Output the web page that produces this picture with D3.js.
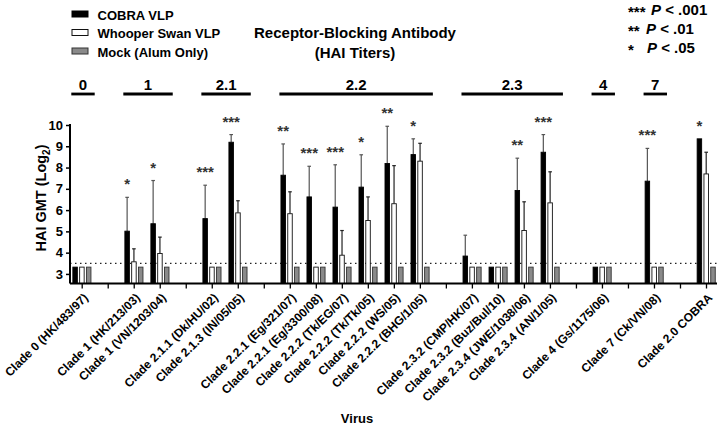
<!DOCTYPE html>
<html><head><meta charset="utf-8">
<script src="https://cdn.jsdelivr.net/npm/d3@7"></script>
<style>
html,body{margin:0;padding:0;background:#fff;}
svg{display:block;font-family:"Liberation Sans",Arial,Helvetica,sans-serif;}
</style></head>
<body>
<svg id="chart" width="720" height="426"></svg>
<script>
// ---------- data ----------
const categories = [
  "Clade 0 (HK/483/97)", null,
  "Clade 1 (HK/213/03)", "Clade 1 (VN/1203/04)", null,
  "Clade 2.1.1 (Dk/HU/02)", "Clade 2.1.3 (IN/05/05)", null,
  "Clade 2.2.1 (Eg/321/07)", "Clade 2.2.1 (Eg/3300/08)", "Clade 2.2.2 (Tk/EG/07)",
  "Clade 2.2.2 (Tk/Tk/05)", "Clade 2.2.2 (WS/05)", "Clade 2.2.2 (BHG/1/05)", null,
  "Clade 2.3.2 (CMP/HK/07)", "Clade 2.3.2 (Buz/Bul/10)", "Clade 2.3.4 (JWE/1038/06)", "Clade 2.3.4 (AN/1/05)", null,
  "Clade 4 (Gs/1175/06)", null,
  "Clade 7 (Ck/VN/08)", null,
  "Clade 2.0 COBRA"
];
const seriesNames = ["COBRA VLP", "Whooper Swan VLP", "Mock (Alum Only)"];
const cobraVLP     = [3.32,null,5.01,5.36,null,5.60,9.19,null,7.64,6.62,6.14,7.08,8.19,8.61,null,3.84,3.32,6.92,8.72,null,3.32,null,7.36,null,9.35];
const cobraUpper   = [3.32,null,6.60,7.39,null,7.17,9.55,null,9.11,8.06,8.13,8.60,9.94,9.35,null,4.82,3.32,8.44,9.55,null,3.32,null,8.90,null,9.35];
const whooperVLP   = [3.32,null,3.57,3.96,null,3.32,5.87,null,5.83,3.32,3.88,5.51,6.30,8.30,null,3.32,3.32,5.04,6.34,null,3.32,null,3.32,null,7.70];
const whooperUpper = [3.32,null,4.18,4.73,null,3.32,6.44,null,6.86,3.32,5.04,6.62,8.09,9.14,null,3.32,3.32,6.39,7.80,null,3.32,null,3.32,null,8.72];
const mockAlum     = [3.32,null,3.32,3.32,null,3.32,3.32,null,3.32,3.32,3.32,3.32,3.32,3.32,null,3.32,3.32,3.32,3.32,null,3.32,null,3.32,null,3.32];
const significance = ["",null,"*","*",null,"***","***",null,"**","***","***","*","**","*",null,"","","**","***",null,"",null,"***",null,"*"];
const cladeGroups = [
  {name:"0",   first:0,  last:0},
  {name:"1",   first:2,  last:3},
  {name:"2.1", first:5,  last:6},
  {name:"2.2", first:8,  last:13},
  {name:"2.3", first:15, last:18},
  {name:"4",   first:20, last:20},
  {name:"7",   first:22, last:22}
];
const yTicks = [3,4,5,6,7,8,9,10];
const detectionLimit = 3.5;
const pLegend = [["***","< .001"],["**","< .01"],["*","< .05"]];

// ---------- layout ----------
const svg = d3.select("#chart");
const axisLeftX = 70, axisRightX = 717, axisBottomY = 283.5, axisTopY = 125;

const x = d3.scalePoint().domain(d3.range(categories.length)).range([81.7, 706]);
const inner = d3.scaleBand().domain(seriesNames).range([-9.25, 9.65]).paddingInner(0.22);
const y = d3.scaleLinear().domain([2.55, 10]).range([axisBottomY, axisTopY]);

const colors = {"COBRA VLP":"#000000","Whooper Swan VLP":"#ffffff","Mock (Alum Only)":"#8a8a8a"};
const strokes = {"COBRA VLP":"#000000","Whooper Swan VLP":"#111111","Mock (Alum Only)":"#333333"};

// detection limit dotted line (behind bars)
svg.append("line")
  .attr("x1", axisLeftX).attr("x2", axisRightX)
  .attr("y1", y(detectionLimit)).attr("y2", y(detectionLimit))
  .attr("stroke", "#222").attr("stroke-width", 1.3)
  .attr("stroke-dasharray", "1.5,3.5");

// bars
const seriesData = [
  {name:"COBRA VLP", vals:cobraVLP, up:cobraUpper},
  {name:"Whooper Swan VLP", vals:whooperVLP, up:whooperUpper},
  {name:"Mock (Alum Only)", vals:mockAlum, up:mockAlum}
];
const barsG = svg.append("g");
seriesData.forEach(s => {
  const pts = s.vals.map((v,i)=>({i, v, up:s.up[i]})).filter(d=>d.v!==null);
  const eg = barsG.append("g");
  pts.filter(d=>d.up > d.v + 0.01).forEach(d=>{
    const cx = x(d.i) + inner(s.name) + inner.bandwidth()/2;
    const col = s.name==="COBRA VLP" ? "#555" : "#222";
    eg.append("line").attr("x1",cx).attr("x2",cx)
      .attr("y1", y(d.v)).attr("y2", y(d.up))
      .attr("stroke", col).attr("stroke-width",1.2);
    eg.append("line").attr("x1",cx-1.8).attr("x2",cx+1.8)
      .attr("y1", y(d.up)).attr("y2", y(d.up))
      .attr("stroke", col).attr("stroke-width",1.2);
  });
  barsG.append("g").selectAll("rect").data(pts).join("rect")
    .attr("x", d => x(d.i) + inner(s.name) + 0.4)
    .attr("width", inner.bandwidth() - 0.8)
    .attr("y", d => y(d.v))
    .attr("height", d => axisBottomY - y(d.v))
    .attr("fill", colors[s.name])
    .attr("stroke", strokes[s.name]).attr("stroke-width", 0.9);
});

// significance stars
svg.append("g").selectAll("text")
  .data(significance.map((s,i)=>({s,i})).filter(d=>d.s))
  .join("text")
  .attr("x", d => x(d.i) + inner("COBRA VLP") + inner.bandwidth()/2)
  .attr("y", d => y(cobraUpper[d.i]) - 8)
  .attr("text-anchor","middle")
  .attr("font-size", 15).attr("font-weight","bold").attr("fill","#333")
  .text(d=>d.s);

// y axis
const yAxis = d3.axisLeft(y).tickValues(yTicks).tickSize(4).tickSizeOuter(0).tickPadding(3);
const yg = svg.append("g").attr("transform", `translate(${axisLeftX},0)`).call(yAxis);
yg.select(".domain").attr("d", `M0,${axisTopY-1}V${axisBottomY}`).attr("stroke","#000").attr("stroke-width",2);
yg.selectAll(".tick line").attr("stroke","#000").attr("stroke-width",1.5);
yg.selectAll(".tick text").attr("font-size",13).attr("font-weight","bold").attr("fill","#000")
  .attr("font-family","'Liberation Sans',Arial,sans-serif");

// x axis
const xAxis = d3.axisBottom(x).tickSize(5).tickSizeOuter(0).tickFormat("");
const xg = svg.append("g").attr("transform", `translate(0,${axisBottomY})`).call(xAxis);
xg.select(".domain").attr("d", `M${axisLeftX},0H${axisRightX}`).attr("stroke","#000").attr("stroke-width",2);
xg.selectAll(".tick line").attr("stroke","#000").attr("stroke-width",1.3);

// x labels rotated
svg.append("g").selectAll("text")
  .data(categories.map((c,i)=>({c,i})).filter(d=>d.c))
  .join("text")
  .attr("transform", d => `translate(${x(d.i)+1},${axisBottomY+9}) rotate(-45)`)
  .attr("dy","0.71em")
  .attr("text-anchor","end")
  .attr("font-size",12).attr("font-weight","bold").attr("fill","#000")
  .text(d=>d.c);

// clade group brackets
const step = x.step();
const cg = svg.append("g");
cladeGroups.forEach(g=>{
  const x1 = x(g.first) - 0.4*step, x2 = x(g.last) + 0.5*step;
  cg.append("line").attr("x1",x1).attr("x2",x2).attr("y1",94).attr("y2",94)
    .attr("stroke","#000").attr("stroke-width",2.8);
  cg.append("text").attr("x",(x1+x2)/2).attr("y",90).attr("text-anchor","middle")
    .attr("font-size",15).attr("font-weight","bold").text(g.name);
});

// axis titles
svg.append("text").attr("x",357).attr("y",423).attr("text-anchor","middle")
  .attr("font-size",13).attr("font-weight","bold").text("Virus");
const yt = svg.append("text").attr("transform","translate(46,198) rotate(-90)")
  .attr("text-anchor","middle").attr("font-size",14.5).attr("font-weight","bold");
yt.append("tspan").text("HAI GMT (Log");
yt.append("tspan").attr("font-size",10).attr("dy",4).text("2");
yt.append("tspan").attr("dy",-4).text(")");

// title
svg.append("text").attr("x",355).attr("y",38).attr("text-anchor","middle")
  .attr("font-size",15).attr("font-weight","bold").text("Receptor-Blocking Antibody");
svg.append("text").attr("x",355).attr("y",58).attr("text-anchor","middle")
  .attr("font-size",15).attr("font-weight","bold").text("(HAI Titers)");

// series legend
const lg = svg.append("g");
seriesNames.forEach((n,k)=>{
  const yy = 11 + k*18.5;
  lg.append("rect").attr("x",72).attr("y",yy).attr("width",16).attr("height",6)
    .attr("fill",colors[n]).attr("stroke",strokes[n]).attr("stroke-width",1);
  lg.append("text").attr("x",97.5).attr("y",yy+8.5).attr("font-size",13)
    .attr("font-weight","bold").text(n);
});

// p-value legend
const pX = [651, 646, 647];
pLegend.forEach((p,k)=>{
  const by = 15 + k*19;
  svg.append("text").attr("x",628).attr("y",by+2).attr("font-size",15).attr("font-weight","bold").text(p[0]);
  const t = svg.append("text").attr("x",pX[k]).attr("y",by).attr("font-size",15).attr("font-weight","bold");
  t.append("tspan").attr("font-style","italic").text("P");
  t.append("tspan").text(" " + p[1]);
});
</script>
</body></html>
